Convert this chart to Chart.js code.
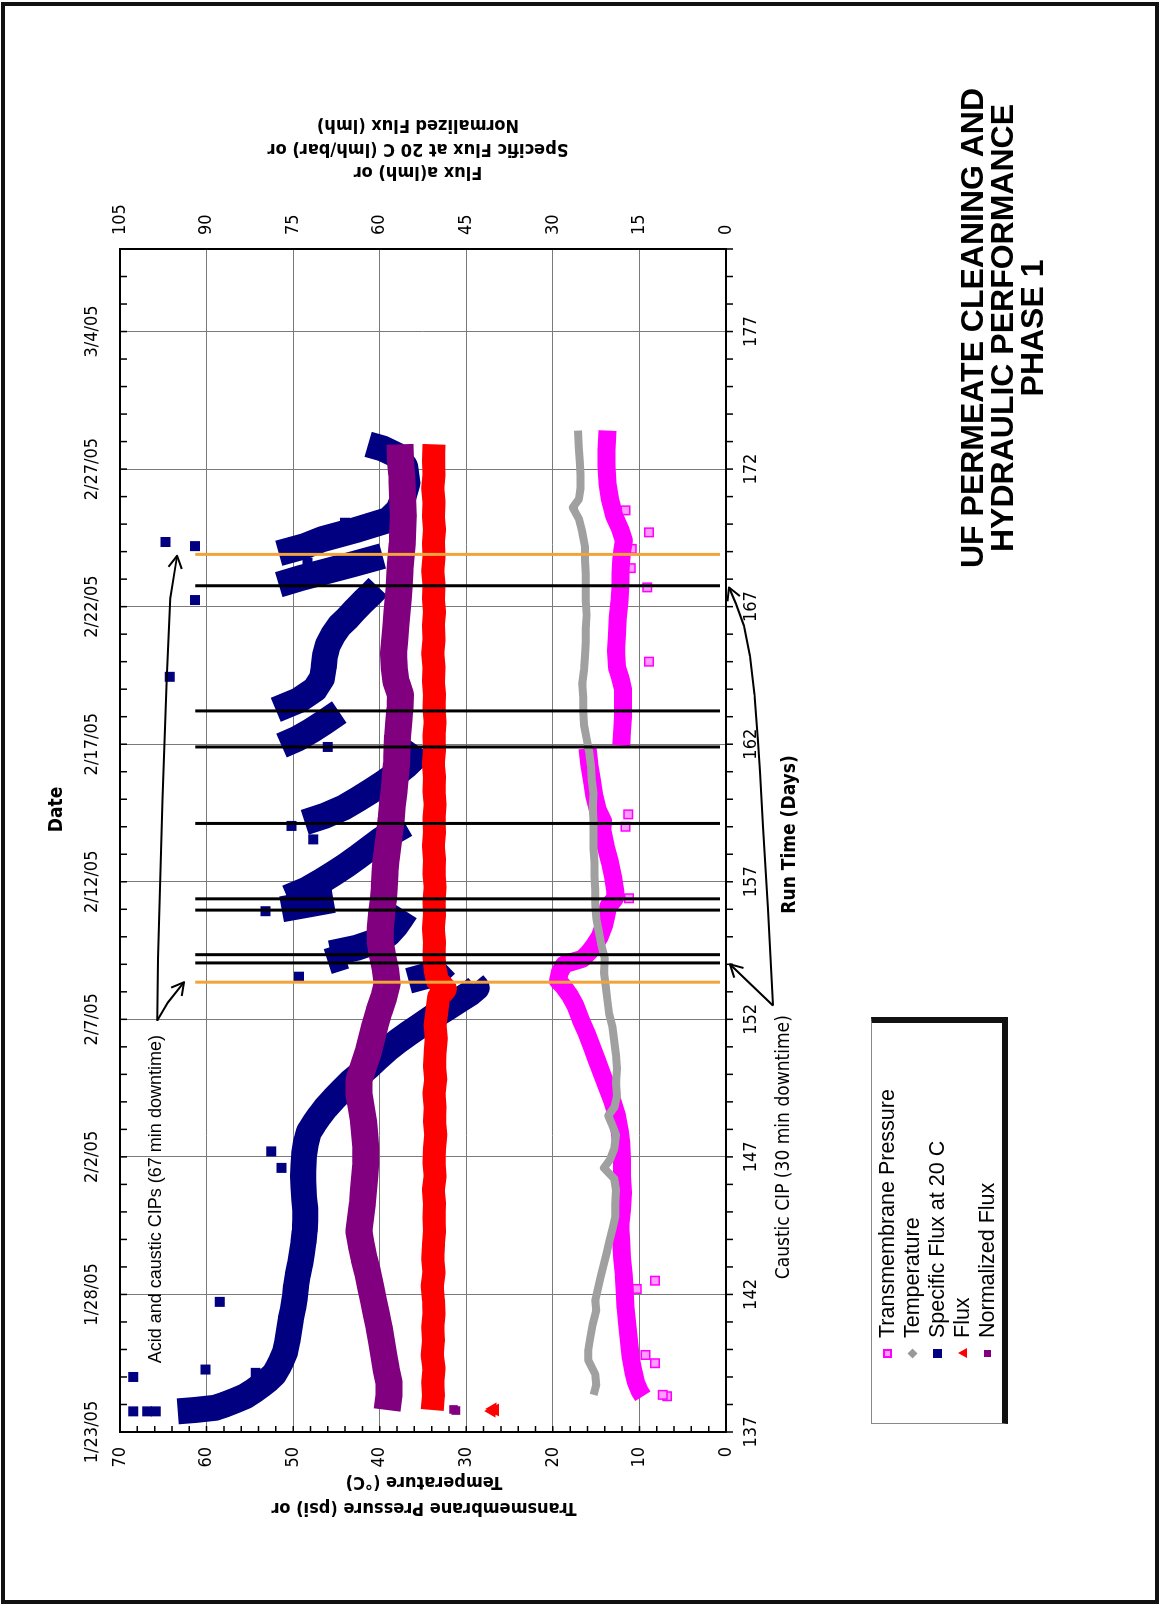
<!DOCTYPE html>
<html>
<head>
<meta charset="utf-8">
<title>UF Permeate Cleaning and Hydraulic Performance Phase 1</title>
<script src="https://cdn.jsdelivr.net/npm/chart.js@4.4.1/dist/chart.umd.min.js"></script>
<style>
  html, body { margin: 0; padding: 0; background: #fff; }
  body { width: 1163px; height: 1606px; overflow: hidden; position: relative; }
  /* the sheet is drawn in landscape and turned a quarter counter-clockwise */
  #page {
    position: absolute; left: 0; top: 0;
    width: 1606px; height: 1163px;
    transform-origin: 0 0;
    transform: translate(0, 1606px) rotate(-90deg);
    font-family: 'Liberation Sans', Arial, sans-serif;
    color: #000;
  }
  #chart { position: absolute; left: 0; top: 0; width: 1606px; height: 1163px; }
  #frame { position: absolute; left: 2px; top: 1px; width: 1594px; height: 1150px; border: 4px solid #111; }
  #title {
    position: absolute; left: 1018px; top: 957px; width: 520px;
    text-align: center; font-weight: bold; font-size: 32px; line-height: 30px;
  }
  #legend {
    position: absolute; left: 182px; top: 871px; width: 400px; height: 130px;
    border-left: 1.5px solid #888; border-top: 1.5px solid #888;
    border-right: 6px solid #111; border-bottom: 6px solid #111;
    font-size: 21.5px;
  }
  #legend .row { position: absolute; left: 0; width: 400px; height: 25px; line-height: 25px; white-space: nowrap; }
  #legend .row span.txt { position: absolute; left: 85px; top: 0; }
  #legend .mk { position: absolute; left: 65px; top: 8px; width: 9px; height: 9px; box-sizing: border-box; }
  .mk-tmp { background: #ff9cff; border: 2px solid #ff00ff; }
  .mk-temp { background: #999; transform: rotate(45deg); width: 7px !important; height: 7px !important; left: 66px !important; top: 9px !important; }
  .mk-spec { background: #000080; }
  .mk-flux { width: 0 !important; height: 0 !important; border-left: 5px solid transparent; border-right: 5px solid transparent; border-bottom: 9px solid #f00; }
  .mk-norm { background: #800080; width: 7px !important; height: 7px !important; left: 66px !important; top: 9px !important; }
</style>
</head>
<body>
<div id="page">
  <canvas id="chart" width="1606" height="1163"></canvas>
  <div id="frame"></div>
  <div id="legend">
    <div class="row" style="top:3px"><span class="mk mk-tmp"></span><span class="txt">Transmembrane Pressure</span></div>
    <div class="row" style="top:28px"><span class="mk mk-temp"></span><span class="txt">Temperature</span></div>
    <div class="row" style="top:53px"><span class="mk mk-spec"></span><span class="txt">Specific Flux at 20 C</span></div>
    <div class="row" style="top:78px"><span class="mk mk-flux"></span><span class="txt">Flux</span></div>
    <div class="row" style="top:103px"><span class="mk mk-norm"></span><span class="txt">Normalized Flux</span></div>
  </div>
  <div id="title">UF PERMEATE CLEANING AND<br>HYDRAULIC PERFORMANCE<br>PHASE 1</div>
</div>
<script>
const NARROW = "'Liberation Sans Narrow', 'DejaVu Sans Condensed', 'Arial Narrow', sans-serif";
const SANS = "'Liberation Sans', Arial, sans-serif";

// axes
const runTicks = [137, 142, 147, 152, 157, 162, 167, 172, 177];
const dateLabels = ['1/23/05', '1/28/05', '2/2/05', '2/7/05', '2/12/05', '2/17/05', '2/22/05', '2/27/05', '3/4/05'];
const pressureTicks = [0, 10, 20, 30, 40, 50, 60, 70];
const fluxTicks = [0, 15, 30, 45, 60, 75, 90, 105];

// cleaning events (run day)
const acidCausticDays = [153.35, 168.9];
const causticDays = [154.05, 154.35, 155.97, 156.38, 159.12, 161.9, 163.21, 167.76];

// Transmembrane pressure (psi) [day, value]
const tmpPoints = [
  [138.3, 9.6], [138.5, 10.0], [138.8, 10.4], [139.2, 10.7], [139.7, 11.0], [140.3, 11.2], [140.9, 11.4],
  [141.5, 11.6], [142.1, 11.7], [142.7, 11.8], [143.3, 12.0], [143.9, 12.1], [144.5, 12.2], [145.1, 12.0],
  [145.7, 11.9], [146.3, 12.0], [146.9, 12.0], [147.5, 12.1], [148.0, 12.3], [148.5, 12.6], [149.0, 13.1],
  [149.5, 13.7], [150.0, 14.3], [150.5, 14.9], [151.0, 15.5], [151.5, 16.1], [152.0, 16.8], [152.5, 17.4],
  [152.9, 18.1], [153.2, 18.8], [153.4, 19.4], [153.7, 19.2], [154.0, 18.7], [154.2, 16.6], [154.45, 15.8],
  [154.7, 15.2], [155.0, 14.6], [155.4, 14.1], [155.8, 13.8], [156.1, 13.6], [156.4, 12.8], [156.7, 12.8],
  [157.1, 13.0], [157.7, 13.4], [158.3, 13.9], [158.9, 14.3], [159.2, 14.2], [159.6, 14.8], [160.1, 15.2],
  [160.7, 15.5], [161.3, 15.8], [161.85, 16.0], [161.88, null],
  [161.95, 12.1], [162.5, 12.0], [163.0, 11.9], [163.5, 11.9], [164.0, 11.9], [164.4, 12.2], [164.8, 12.6],
  [165.4, 12.7], [166.0, 12.6], [166.6, 12.5], [167.2, 12.3], [167.7, 12.2], [168.2, 12.2], [168.7, 12.1],
  [169.0, 12.0], [169.4, 11.8], [169.8, 12.2], [170.3, 12.9], [170.9, 13.4], [171.5, 13.7], [172.1, 13.8],
  [172.7, 13.8], [173.4, 13.7]
];
const tmpStray = [
  [138.3, 6.8], [138.35, 7.3], [139.5, 8.2], [139.8, 9.3], [142.2, 10.3], [142.5, 8.2], [156.4, 11.2],
  [159.0, 11.6], [159.45, 11.3], [165.0, 8.9], [167.7, 9.1], [168.4, 11.0], [169.1, 10.9], [169.7, 8.9], [170.5, 11.6]
];

// Temperature (C)
const tempPoints = [
  [138.35, 15.3], [138.7, 15.0], [139.1, 15.1], [139.6, 15.9], [140.0, 15.9], [140.4, 15.7], [140.9, 15.4],
  [141.4, 15.0], [141.8, 15.1], [142.2, 14.8], [142.6, 14.5], [143.0, 14.2], [143.5, 13.8], [143.9, 13.5],
  [144.4, 13.1], [144.8, 12.8], [145.3, 12.8], [145.8, 12.7], [146.2, 12.9], [146.6, 14.1], [146.9, 13.4],
  [147.3, 12.9], [147.8, 12.7], [148.2, 13.2], [148.5, 13.6], [148.8, 12.9], [149.2, 12.6], [149.7, 12.7],
  [150.2, 12.6], [150.7, 12.7], [151.2, 12.9], [151.7, 13.1], [152.2, 13.5], [152.7, 13.7], [153.2, 13.9],
  [153.7, 14.1], [154.2, 14.0], [154.7, 14.4], [155.2, 14.7], [155.7, 15.0], [156.2, 15.1], [156.7, 15.1],
  [157.2, 15.2], [157.7, 15.2], [158.2, 15.3], [158.7, 15.3], [159.2, 15.3], [159.7, 15.4], [160.2, 15.3],
  [160.7, 15.5], [161.2, 15.6], [161.7, 15.8], [162.2, 16.1], [162.7, 16.4], [163.2, 16.5], [163.7, 16.5],
  [164.2, 16.6], [164.7, 16.4], [165.2, 16.3], [165.7, 16.2], [166.2, 16.2], [166.7, 16.1], [167.2, 16.2],
  [167.7, 16.2], [168.2, 16.2], [168.7, 16.3], [169.2, 16.3], [169.7, 16.6], [170.2, 17.0], [170.6, 17.7],
  [170.9, 17.0], [171.3, 16.8], [171.8, 16.8], [172.3, 16.9], [172.8, 17.0], [173.4, 17.1]
];

// Specific flux at 20 C (lmh/bar), gaps at each cleaning
const specPoints = [
  [137.75, 95.0], [137.8, 92.0], [137.88, 88.5], [138.0, 86.8], [138.15, 85.0], [138.3, 83.3], [138.5, 81.8],
  [138.7, 80.5], [138.9, 79.3], [139.1, 78.3], [139.35, 77.6], [139.6, 77.0], [139.9, 76.4], [140.3, 76.0],
  [140.7, 75.7], [141.1, 75.4], [141.5, 75.0], [141.9, 74.7], [142.3, 74.5], [142.7, 74.2], [143.1, 73.8],
  [143.5, 73.5], [143.9, 73.2], [144.3, 73.0], [144.7, 72.9], [145.1, 72.9], [145.5, 73.1], [145.9, 73.2],
  [146.3, 73.3], [146.7, 73.2], [147.1, 73.1], [147.5, 72.8], [147.9, 72.3], [148.2, 71.4], [148.5, 70.4],
  [148.8, 69.3], [149.1, 68.0], [149.4, 66.6], [149.7, 65.2], [150.0, 63.5], [150.3, 61.8], [150.6, 60.3],
  [150.9, 58.7], [151.2, 56.9], [151.5, 54.9], [151.8, 52.8], [152.1, 50.7], [152.4, 48.4], [152.7, 46.2],
  [152.95, 44.3], [153.15, 43.2], [153.3, 43.8], [153.32, null],
  [153.4, 55.0], [153.6, 51.5], [153.8, 49.5], [154.0, 48.5], [154.02, null],
  [154.1, 69.0], [154.3, 66.0], [154.32, null],
  [154.4, 68.5], [154.6, 64.0], [154.85, 60.5], [155.1, 58.5], [155.4, 57.2], [155.7, 56.2], [155.93, 55.5], [155.95, null],
  [156.0, 77.0], [156.15, 73.0], [156.34, 68.0], [156.36, null],
  [156.42, 76.0], [156.7, 72.8], [157.0, 70.3], [157.3, 68.0], [157.6, 65.8], [157.9, 63.8], [158.2, 61.9],
  [158.5, 60.0], [158.8, 57.8], [159.08, 55.5], [159.1, null],
  [159.16, 73.0], [159.4, 69.5], [159.7, 66.2], [160.0, 63.8], [160.3, 61.5], [160.6, 59.3], [160.9, 57.3],
  [161.2, 55.5], [161.5, 54.0], [161.86, 52.8], [161.88, null],
  [161.95, 77.0], [162.2, 74.3], [162.5, 71.8], [162.8, 69.6], [163.17, 67.0], [163.19, null],
  [163.25, 78.0], [163.6, 74.0], [164.0, 71.2], [164.4, 70.0], [164.8, 69.7], [165.2, 69.5], [165.6, 69.0],
  [166.0, 68.0], [166.3, 67.0], [166.6, 65.5], [166.9, 64.2], [167.2, 62.8], [167.5, 61.3], [167.72, 60.3], [167.74, null],
  [167.8, 77.5], [168.05, 73.5], [168.3, 69.0], [168.55, 64.5], [168.84, 59.5], [168.86, null],
  [168.94, 77.5], [169.2, 73.0], [169.45, 70.0], [169.8, 63.9], [170.15, 58.5], [170.5, 56.8], [170.9, 56.0],
  [171.5, 55.2], [172.1, 55.6], [172.5, 57.0], [172.75, 59.5], [172.9, 62.0]
];
const specStray = [
  [137.75, 102.7], [137.75, 100.3], [137.75, 98.8], [139.0, 102.7], [139.27, 90.2], [139.15, 81.5],
  [141.73, 87.7], [146.6, 77.0], [147.2, 78.8], [153.55, 74.0], [155.93, 79.8], [158.54, 71.5],
  [159.03, 75.3], [161.9, 69.0], [164.45, 96.4], [167.24, 92.0], [168.6, 72.5], [169.2, 92.0],
  [169.35, 97.1], [170.05, 66.0]
];

// Flux (lmh)
const fluxPoints = [
  [137.8, 50.9], [138.3, 50.7], [138.8, 50.8], [139.3, 50.6], [139.8, 50.9], [140.3, 50.7], [140.8, 50.8],
  [141.3, 50.6], [141.8, 50.7], [142.3, 50.9], [142.8, 50.6], [143.3, 50.8], [143.8, 50.7], [144.3, 50.5],
  [144.8, 50.6], [145.3, 50.5], [145.8, 50.7], [146.3, 50.4], [146.8, 50.6], [147.3, 50.5], [147.8, 50.3],
  [148.3, 50.5], [148.8, 50.4], [149.3, 50.6], [149.8, 50.3], [150.3, 50.5], [150.8, 50.4], [151.3, 50.2],
  [151.8, 50.4], [152.3, 50.1], [152.8, 49.8], [153.1, 48.6], [153.4, 50.0], [153.8, 50.4], [154.3, 50.6],
  [154.8, 50.5], [155.3, 50.7], [155.8, 50.5], [156.3, 50.6], [156.8, 50.4], [157.3, 50.6], [157.8, 50.5],
  [158.3, 50.7], [158.8, 50.5], [159.3, 50.6], [159.8, 50.4], [160.3, 50.6], [160.8, 50.5], [161.3, 50.7],
  [161.8, 50.5], [162.3, 50.6], [162.8, 50.4], [163.3, 50.6], [163.8, 50.5], [164.3, 50.7], [164.8, 50.6],
  [165.3, 50.8], [165.8, 50.6], [166.3, 50.7], [166.8, 50.5], [167.3, 50.7], [167.8, 50.6], [168.3, 50.8],
  [168.8, 50.6], [169.3, 50.7], [169.8, 50.5], [170.3, 50.7], [170.8, 50.6], [171.3, 50.8], [171.8, 50.6],
  [172.3, 50.7], [172.9, 50.6]
];
const fluxStray = [[137.76, 40.6], [137.8, 40.0], [137.84, 40.4]];

// Normalized flux (lmh)
const normPoints = [
  [137.8, 58.7], [138.3, 58.4], [138.8, 58.4], [139.3, 58.9], [139.8, 59.3], [140.3, 59.7], [140.8, 60.1],
  [141.3, 60.6], [141.8, 61.1], [142.3, 61.6], [142.8, 62.1], [143.3, 62.7], [143.8, 63.2], [144.3, 63.6],
  [144.8, 63.3], [145.3, 63.0], [145.8, 62.8], [146.3, 62.6], [146.8, 62.4], [147.3, 62.4], [147.8, 62.6],
  [148.3, 62.8], [148.8, 63.2], [149.3, 63.6], [149.8, 63.6], [150.3, 62.8], [150.8, 62.0], [151.3, 61.4],
  [151.8, 60.8], [152.3, 60.1], [152.8, 59.3], [153.3, 58.7], [153.8, 59.0], [154.3, 59.5], [154.8, 59.9],
  [155.3, 59.9], [155.8, 59.7], [156.3, 59.4], [156.8, 59.2], [157.3, 59.1], [157.8, 58.9], [158.3, 58.6],
  [158.8, 58.3], [159.3, 58.0], [159.8, 57.8], [160.3, 57.5], [160.8, 57.3], [161.3, 57.1], [161.8, 57.0],
  [162.3, 56.9], [162.8, 56.7], [163.3, 56.5], [163.8, 56.4], [164.3, 57.2], [164.8, 57.5], [165.3, 57.6],
  [165.8, 57.4], [166.3, 57.2], [166.8, 57.0], [167.3, 56.8], [167.8, 56.6], [168.3, 56.5], [168.8, 56.3],
  [169.3, 56.1], [169.8, 56.0], [170.3, 55.9], [170.8, 56.0], [171.3, 56.1], [171.8, 56.2], [172.3, 56.4],
  [172.9, 56.5]
];
const normStray = [[137.78, 46.8], [137.82, 47.2]];

// ---- drawing ----
const eventSpan = [0.7, 61.3]; // psi extent of the cleaning markers

const toXY = pts => pts.map(([x, y]) => ({ x, y }));

function band(pts, color, width, axis, order) {
  return {
    data: toXY(pts), yAxisID: axis, showLine: true, spanGaps: false,
    borderColor: color, backgroundColor: color, borderWidth: width,
    borderJoinStyle: 'round', borderCapStyle: 'butt', tension: 0,
    pointStyle: 'rect', pointRadius: 0, order
  };
}

function stray(pts, style, color, fill, radius, axis, order) {
  return {
    data: toXY(pts), yAxisID: axis, showLine: false,
    pointStyle: style, pointRadius: radius, pointBorderWidth: 1.5,
    pointBorderColor: color, pointBackgroundColor: fill, order
  };
}

function eventLine(day, color) {
  return {
    data: [{ x: day, y: eventSpan[0] }, { x: day, y: eventSpan[1] }],
    yAxisID: 'y', showLine: true, borderColor: color, borderWidth: 3,
    pointRadius: 0, order: 0
  };
}

// callouts: [run day, psi] inside the plot, [run day, px below plot] under it
const acidBranchA = [[151.95, 65.7], [152.6, 64.5], [153.35, 62.6]];
const acidBranchB = [[151.95, 65.7], [154.2, 65.6], [160.0, 65.1], [164.4, 64.6], [167.3, 64.2], [168.85, 63.4]];
const causticBranchA = [[152.5, 47], [153.3, 24], [154.0, 4]];
const causticBranchB = [[152.5, 47], [156.0, 42], [159.0, 37], [161.0, 34], [162.1, 32], [163.8, 28.5],
  [165.2, 24], [166.3, 18], [167.1, 10], [167.7, 3]];

function polyArrow(ctx, pts) {
  ctx.beginPath();
  pts.forEach(([x, y], i) => (i ? ctx.lineTo(x, y) : ctx.moveTo(x, y)));
  ctx.stroke();
  const [x1, y1] = pts[pts.length - 2];
  const [x2, y2] = pts[pts.length - 1];
  const a = Math.atan2(y2 - y1, x2 - x1);
  const len = 14;
  ctx.beginPath();
  ctx.moveTo(x2 - len * Math.cos(a - 0.5), y2 - len * Math.sin(a - 0.5));
  ctx.lineTo(x2, y2);
  ctx.lineTo(x2 - len * Math.cos(a + 0.5), y2 - len * Math.sin(a + 0.5));
  ctx.stroke();
}

function upText(ctx, lines, x0, step, cy) {
  lines.forEach((t, i) => {
    ctx.save();
    ctx.translate(x0 + i * step, cy);
    ctx.rotate(-Math.PI / 2);
    ctx.fillText(t, 0, 0);
    ctx.restore();
  });
}

const overlay = {
  id: 'overlay',
  afterDraw(chart) {
    const { ctx, chartArea: area } = chart;
    const X = d => chart.scales.x.getPixelForValue(d);
    const Y = p => chart.scales.y.getPixelForValue(p);
    ctx.save();

    // minor tick marks
    ctx.strokeStyle = '#000';
    ctx.lineWidth = 1.5;
    ctx.beginPath();
    for (let d = 137; d <= 180; d++) {
      ctx.moveTo(X(d), area.bottom); ctx.lineTo(X(d), area.bottom + 7);
      ctx.moveTo(X(d), area.top); ctx.lineTo(X(d), area.top + 7);
    }
    for (let p = 2; p < 70; p += 2) {
      ctx.moveTo(area.left, Y(p)); ctx.lineTo(area.left + 6, Y(p));
    }
    ctx.stroke();

    // axis titles
    const midX = (area.left + area.right) / 2 + 6;
    ctx.fillStyle = '#000';
    ctx.textAlign = 'center';
    ctx.textBaseline = 'middle';
    ctx.font = 'bold 19px ' + NARROW;
    ctx.fillText('Date', midX + 25, 57);
    ctx.fillText('Run Time (Days)', midX, 790);
    ctx.font = 'bold 18px ' + NARROW;
    upText(ctx, ['Transmembrane Pressure (psi) or', 'Temperature (\u00B0C)'], 98, 26, 424);
    upText(ctx, ['Flux a(lmh) or', 'Specific Flux at 20 C (lmh/bar) or', 'Normalized Flux (lmh)'], 1434, 23.5, 418);

    // callouts
    ctx.font = '18px ' + SANS;
    ctx.textAlign = 'left';
    ctx.fillText('Acid and caustic CIPs (67 min downtime)', X(139.5), Y(65.8));
    ctx.font = '19px ' + NARROW;
    ctx.textAlign = 'right';
    ctx.fillText('Caustic CIP (30 min downtime)', X(152.15), area.bottom + 58);

    ctx.lineWidth = 2;
    ctx.lineJoin = 'round';
    polyArrow(ctx, acidBranchA.map(([d, p]) => [X(d), Y(p)]));
    polyArrow(ctx, acidBranchB.map(([d, p]) => [X(d), Y(p)]));
    polyArrow(ctx, causticBranchA.map(([d, o]) => [X(d), area.bottom + o]));
    polyArrow(ctx, causticBranchB.map(([d, o]) => [X(d), area.bottom + o]));
    ctx.restore();
  }
};

const tickFont = { family: NARROW, size: 18 };
const setTicks = list => axis => { axis.ticks = list.map(v => ({ value: v })); };

const datasets = [
  ...causticDays.map(d => eventLine(d, '#000000')),
  ...acidCausticDays.map(d => eventLine(d, '#F2A33A')),
  band(normPoints, '#800080', 27, 'y2', 1),
  stray(normStray, 'rect', '#800080', '#800080', 5, 'y2', 1),
  band(fluxPoints, '#FF0000', 23, 'y2', 2),
  stray(fluxStray, 'triangle', '#FF0000', '#FF0000', 6, 'y2', 2),
  band(specPoints, '#000080', 26, 'y2', 3),
  stray(specStray, 'rect', '#000080', '#000080', 6, 'y2', 3),
  band(tempPoints, '#A0A0A0', 8, 'y', 4),
  band(tmpPoints, '#FF00FF', 18, 'y', 5),
  stray(tmpStray, 'rect', '#FF00FF', '#FF9CFF', 6, 'y', 5)
];

new Chart(document.getElementById('chart'), {
  type: 'scatter',
  data: { datasets },
  options: {
    responsive: false,
    animation: false,
    events: [],
    layout: { padding: { left: 114, right: 189, top: 60, bottom: 377 } },
    plugins: { legend: { display: false }, tooltip: { enabled: false } },
    scales: {
      x: {
        type: 'linear', position: 'bottom', min: 137, max: 180,
        afterBuildTicks: setTicks(runTicks),
        afterFit: s => { s.height = 60; },
        grid: { color: '#7a7a7a', lineWidth: 1, drawTicks: false },
        border: { color: '#000', width: 2 },
        ticks: { padding: 15, color: '#000', font: tickFont, maxRotation: 0, autoSkip: false }
      },
      xTop: {
        type: 'linear', position: 'top', min: 137, max: 180,
        afterBuildTicks: setTicks(runTicks),
        afterFit: s => { s.height = 60; },
        grid: { display: false, drawTicks: false },
        border: { color: '#000', width: 2 },
        ticks: { padding: 17, color: '#000', font: tickFont, maxRotation: 0, autoSkip: false,
                 callback: (v, i) => dateLabels[i] }
      },
      y: {
        type: 'linear', position: 'left', min: 0, max: 70,
        afterBuildTicks: setTicks(pressureTicks),
        afterFit: s => { s.width = 60; },
        grid: { color: '#7a7a7a', lineWidth: 1, drawTicks: false },
        border: { color: '#000', width: 2 },
        ticks: { padding: 15, color: '#000', font: tickFont }
      },
      y2: {
        type: 'linear', position: 'right', min: 0, max: 105,
        afterBuildTicks: setTicks(fluxTicks),
        afterFit: s => { s.width = 60; },
        grid: { display: false, drawTicks: false },
        border: { color: '#000', width: 2 },
        ticks: { padding: 14, color: '#000', font: tickFont }
      }
    }
  },
  plugins: [overlay]
});
</script>
</body>
</html>
